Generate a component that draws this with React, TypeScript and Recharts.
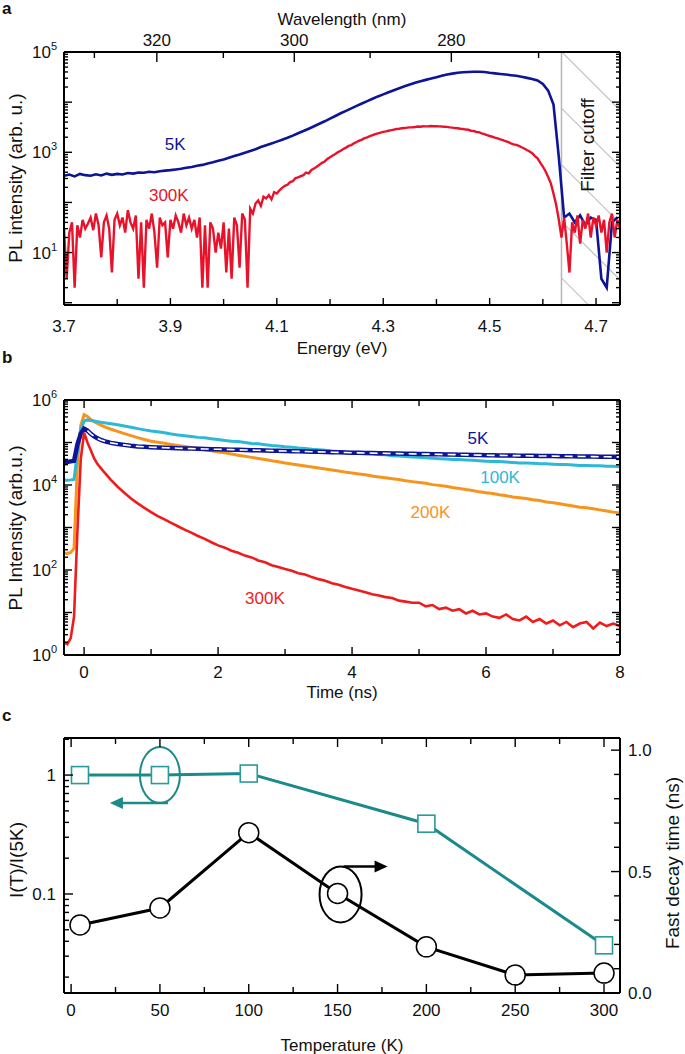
import React from "react";
import { LineChart, Line, XAxis, YAxis, ReferenceArea, ReferenceLine, ReferenceDot } from "recharts";

const FONT = '"Liberation Sans", Arial, Helvetica, sans-serif';
const FS = 17;
const INK = "#111";
const AXIS = { stroke: "#000", strokeWidth: 2 };

// ---------- a: PL spectra ----------
// 300K spectrum, 3.700 .. 4.745 eV every 0.005 eV
const pl300KSpectrum = [
  30, 3, 25, 40, 2, 35, 20, 45, 30, 38,
  50, 28, 60, 35, 8, 40, 55, 30, 4, 45,
  60, 35, 50, 25, 70, 40, 30, 55, 3, 40,
  2, 45, 30, 60, 25, 5, 50, 35, 40, 8,
  45, 30, 55, 40, 25, 60, 35, 50, 30, 45,
  20, 50, 2, 35, 2, 40, 30, 10, 25, 12,
  40, 4, 30, 3, 50, 35, 5, 60, 45, 2,
  75, 60, 95, 110, 85, 130, 120, 140, 115, 160,
  150, 175, 195, 215, 225, 255, 265, 305, 315, 335,
  350, 395, 380, 445, 475, 515, 565, 615, 655, 735,
  800, 860, 925, 1010, 1070, 1160, 1240, 1340, 1390, 1510,
  1600, 1710, 1790, 1910, 1990, 2110, 2190, 2310, 2390, 2460,
  2550, 2610, 2690, 2760, 2840, 2910, 2940, 3010, 3040, 3110,
  3140, 3160, 3190, 3260, 3240, 3310, 3290, 3310, 3340, 3300,
  3310, 3290, 3260, 3240, 3210, 3140, 3110, 3040, 3010, 2940,
  2910, 2840, 2810, 2690, 2660, 2540, 2510, 2390, 2310, 2190,
  2110, 2040, 1960, 1890, 1810, 1740, 1660, 1590, 1510, 1440,
  1400, 1340, 1260, 1190, 1110, 1040, 960, 840, 760, 620,
  520, 420, 320, 240, 150, 90, 45, 20, 50, 15,
  4, 40, 25, 55, 15, 45, 30, 60, 20, 50,
  35, 55, 25, 45, 10, 40, 60, 20, 45, 30,
];
// 5K spectrum, 3.70 .. 4.74 eV every 0.01 eV
const pl5KSpectrum = [
  340, 360, 330, 370, 350, 340, 365, 345, 375, 355,
  370, 360, 385, 375, 395, 390, 410, 400, 420, 430,
  440, 455, 470, 490, 510, 540, 560, 600, 630, 680,
  720, 780, 840, 900, 980, 1060, 1150, 1270, 1380, 1500,
  1630, 1780, 1950, 2150, 2400, 2650, 2950, 3300, 3700, 4150,
  4700, 5300, 6000, 6700, 7500, 8400, 9400, 10500, 11700, 13000,
  14300, 15800, 17300, 19000, 20700, 22500, 24300, 26000, 27800, 29500,
  31500, 33500, 35500, 37000, 38500, 39500, 40000, 40500, 40500, 40000,
  38500, 37500, 36500, 35500, 34500, 33500, 32000, 30500, 29000, 27000,
  23000, 17000, 9000, 800, 50, 60, 40, 55, 35, 50,
  45, 3, 2, 40, 50,
];
const energyTicksEV = [3.7, 3.8, 3.9, 4.0, 4.1, 4.2, 4.3, 4.4, 4.5, 4.6, 4.7];
const energyLabelsEV = [3.7, 3.9, 4.1, 4.3, 4.5, 4.7];
const wavelengthTicksNm = [330, 320, 310, 300, 290, 280, 270];
const wavelengthLabelsNm = [320, 300, 280];
const filterCutoffEV = 4.635;

// ---------- b: time-resolved PL ----------
const timeEarlyNs = [-0.3, -0.25, -0.2, -0.15, -0.1, -0.05, 0, 0.05, 0.1, 0.15, 0.2, 0.25, 0.3, 0.4, 0.5, 0.6, 0.7, 0.8, 0.9];
const tr5K = [
  36000, 35000, 36000, 37000, 90000, 160000, 210000, 190000, 160000, 140000, 125000, 115000, 108000, 98000, 92000, 88000, 84000, 81000, 79000,
  77600, 76600, 75500, 74500, 73500, 72400, 71800, 71100, 70500, 69800,
  69200, 68500, 67900, 67300, 66700, 66100, 65500, 64900, 64300, 63700,
  63100, 62500, 61900, 61400, 60800, 60300, 59700, 59200, 58600, 58100,
  57500, 57100, 56700, 56300, 55900, 55600, 55200, 54800, 54400, 54100,
  53700, 53300, 53000, 52600, 52200, 51900, 51500, 51200, 50800, 50500,
  50100, 49900, 49700, 49400, 49200, 49000, 48800, 48500, 48300, 48100,
  47900, 47600, 47400, 47200, 47000, 46800, 46600, 46300, 46100, 45900,
  45700,
];
const tr100K = [
  13000, 13000, 13200, 13500, 60000, 200000, 320000, 340000, 330000, 320000, 310000, 300000, 292000, 276000, 262000, 245000, 228000, 212000, 198000,
  186000, 178000, 170000, 158000, 151000, 145000, 138000, 132000, 129000, 123000,
  117000, 112000, 107000, 105000, 100000, 95000, 93000, 89000, 85000, 83000,
  79000, 77600, 74000, 72000, 69000, 67600, 66000, 63000, 61700, 59000,
  57500, 56000, 55000, 53700, 52500, 51300, 49000, 47900, 46800, 45700,
  44700, 43600, 42700, 41700, 40700, 39800, 39800, 38900, 38000, 37200,
  36300, 35500, 35500, 34700, 33900, 33100, 33100, 32400, 31600, 31600,
  30900, 30200, 30200, 29500, 28800, 28800, 28200, 28200, 27500, 27500,
  26900,
];
const tr200K = [
  250, 245, 260, 320, 30000, 250000, 450000, 410000, 350000, 310000, 280000, 255000, 235000, 205000, 182000, 162000, 145000, 130000, 118000,
  107000, 101000, 95500, 90200, 85100, 80400, 75900, 71600, 67600, 63800,
  60000, 57000, 53700, 50000, 47300, 44700, 42200, 39800, 37200, 35100,
  33100, 31300, 29600, 28100, 26500, 25100, 23800, 22500, 21300, 20100,
  19100, 18200, 17400, 16200, 15500, 14800, 14100, 13500, 12600, 12000,
  11500, 11000, 10200, 9800, 9300, 8700, 8300, 7800, 7400, 6900,
  6600, 6300, 5900, 5600, 5200, 5000, 4800, 4500, 4300, 4000,
  3800, 3600, 3400, 3200, 3000, 2900, 2750, 2600, 2450, 2300,
  2200,
];
const tr300K = [
  2, 1.8, 2.5, 8, 800, 40000, 170000, 100000, 66000, 42000, 31000, 25000, 20000, 13200, 9100, 6600, 4800, 3700, 2900,
  2300, 1860, 1550, 1290, 1070, 890, 760, 630, 540, 450,
  380, 335, 285, 255, 218, 198, 168, 152, 130, 118,
  105, 96, 84, 78, 68, 61, 56, 49, 45, 40,
  36, 33, 30, 27, 25, 23, 22, 19, 18, 17,
  17, 14, 15, 12, 13, 11, 12, 9.5, 11, 9,
  9.5, 8, 7.5, 9, 7, 6.5, 8, 6, 7, 5.5,
  6.5, 5, 6, 4.5, 5.5, 6, 4.2, 5.8, 4.8, 5.5,
  4.8,
];
const timeTicksNs = [0, 1, 2, 3, 4, 5, 6, 7, 8];

// ---------- c: temperature dependence ----------
const ratioTempsK = [5, 50, 100, 200, 300];
const intensityRatio = [1.0, 1.0, 1.03, 0.39, 0.037];
const decayTempsK = [5, 50, 100, 150, 200, 250, 300];
const fastDecayNs = [0.28, 0.35, 0.66, 0.41, 0.19, 0.074, 0.082];
const tempTicksK = [0, 25, 50, 75, 100, 125, 150, 175, 200, 225, 250, 275, 300];
const decayTicksNs = [0, 0.1, 0.2, 0.3, 0.4, 0.5, 0.6, 0.7, 0.8, 0.9, 1.0];

const NAVY = "#0d1496";
const RED = "#e8132b";
const CYAN = "#2db8d8";
const ORANGE = "#f7941d";
const TEAL = "#1c8a8a";

const logTicks = (lo: number, hi: number) => {
  const out: number[] = [];
  for (let k = Math.floor(Math.log10(lo)); k <= Math.ceil(Math.log10(hi)); k++) {
    for (let d = 1; d <= 9; d++) {
      const v = +(d * Math.pow(10, k)).toPrecision(3);
      if (v >= lo && v <= hi) out.push(v);
    }
  }
  return out;
};
const isDecade = (v: number) => Math.abs(Math.log10(v) - Math.round(Math.log10(v))) < 1e-6;
const pow10 = (v: number) => (
  <>
    <tspan>10</tspan>
    <tspan dy={-8} fontSize={11}>{Math.round(Math.log10(v))}</tspan>
  </>
);
const near = (list: number[], v: number) => list.some((a) => Math.abs(a - v) < 1e-6);

type Side = "left" | "right" | "top" | "bottom";
const makeTick = (
  side: Side,
  isMajor: (v: number) => boolean,
  label: (v: number) => React.ReactNode,
  gap: number,
  majorLen = 8,
  minorLen = 4
) =>
  function Tick(props: any) {
    const { x, y, payload } = props;
    const v = payload.value as number;
    const len = isMajor(v) ? majorLen : minorLen;
    const t = label(v);
    const ts = { fontFamily: FONT, fontSize: FS, fill: INK };
    let l = [x, y, x, y];
    let txt: React.ReactNode = null;
    if (side === "left") {
      l = [x, y, x + len, y];
      if (t != null) txt = <text x={x - gap} y={y + FS * 0.36} textAnchor="end" {...ts}>{t}</text>;
    } else if (side === "right") {
      l = [x, y, x - len, y];
      if (t != null) txt = <text x={x + gap} y={y + FS * 0.36} textAnchor="start" {...ts}>{t}</text>;
    } else if (side === "bottom") {
      l = [x, y, x, y - len];
      if (t != null) txt = <text x={x} y={y + gap + FS * 0.72} textAnchor="middle" {...ts}>{t}</text>;
    } else {
      l = [x, y, x, y + len];
      if (t != null) txt = <text x={x} y={y - gap} textAnchor="middle" {...ts}>{t}</text>;
    }
    return (
      <g>
        <line x1={l[0]} y1={l[1]} x2={l[2]} y2={l[3]} stroke="#000" strokeWidth={1.4} />
        {txt}
      </g>
    );
  };

const none = () => null;
const axisCommon = { tickLine: false, tickSize: 0, tickMargin: 0, axisLine: AXIS, interval: 0 as const, allowDataOverflow: true };

const txtShape = (text: string, color: string) =>
  function Txt(p: any) {
    return (
      <text x={p.cx} y={p.cy + FS * 0.36} textAnchor="middle" fontFamily={FONT} fontSize={FS} fill={color}>
        {text}
      </text>
    );
  };

// ---- panel a ----
const specRed = pl300KSpectrum.map((y, i) => ({ x: +(3.7 + i * 0.005).toFixed(3), y }));
const specBlue = pl5KSpectrum.map((y, i) => ({ x: +(3.7 + i * 0.01).toFixed(2), y }));
const wlTickEV = wavelengthTicksNm.map((nm) => 1239.84 / nm);

const PanelA = () => {
  const yTicks = logTicks(1, 1e5);
  return (
    <LineChart width={685} height={360} margin={{ top: 0, right: 0, bottom: 0, left: 0 }}>
      <XAxis
        {...axisCommon}
        xAxisId="b"
        type="number"
        dataKey="x"
        domain={[3.7, 4.745]}
        ticks={energyTicksEV}
        height={55}
        tick={makeTick("bottom", (v) => near(energyLabelsEV, v), (v) => (near(energyLabelsEV, v) ? v.toFixed(1) : null), 15, 7, 6)}
      />
      <XAxis
        {...axisCommon}
        xAxisId="t"
        orientation="top"
        type="number"
        dataKey="x"
        domain={[3.7, 4.745]}
        ticks={wlTickEV}
        height={52}
        tick={makeTick(
          "top",
          (v) => near(wavelengthLabelsNm, Math.round(1239.84 / v)),
          (v) => (near(wavelengthLabelsNm, Math.round(1239.84 / v)) ? String(Math.round(1239.84 / v)) : null),
          6,
          10,
          6
        )}
      />
      <YAxis
        {...axisCommon}
        yAxisId="l"
        scale="log"
        type="number"
        domain={[0.9, 1e5]}
        ticks={yTicks}
        width={64}
        tick={makeTick("left", isDecade, (v) => (v === 10 || v === 1000 || v === 100000 ? pow10(v) : null), 7, 8, 4)}
      />
      <YAxis
        {...axisCommon}
        yAxisId="r"
        orientation="right"
        scale="log"
        type="number"
        domain={[0.9, 1e5]}
        ticks={yTicks}
        width={65}
        tick={makeTick("right", isDecade, none, 7, 8, 4)}
      />
      <ReferenceArea xAxisId="b" yAxisId="l" x1={filterCutoffEV} x2={4.745} fill="url(#hatch)" fillOpacity={1} stroke="none" />
      <ReferenceLine xAxisId="b" yAxisId="l" x={filterCutoffEV} stroke="#b5b5b5" strokeWidth={1.5} />
      <Line xAxisId="b" yAxisId="l" data={specBlue} dataKey="y" stroke={NAVY} strokeWidth={2.6} dot={false} activeDot={false} isAnimationActive={false} />
      <Line xAxisId="b" yAxisId="l" data={specRed} dataKey="y" stroke={RED} strokeWidth={2.4} dot={false} activeDot={false} isAnimationActive={false} />
      <ReferenceDot xAxisId="b" yAxisId="l" x={3.909} y={1500} r={1} shape={txtShape("5K", NAVY)} />
      <ReferenceDot xAxisId="b" yAxisId="l" x={3.897} y={140} r={1} shape={txtShape("300K", RED)} />
      <ReferenceDot
        xAxisId="b"
        yAxisId="l"
        x={4.683}
        y={1400}
        r={1}
        shape={(p: any) => (
          <text
            x={p.cx}
            y={p.cy}
            transform={`rotate(-90 ${p.cx} ${p.cy})`}
            textAnchor="middle"
            dominantBaseline="central"
            fontFamily={FONT}
            fontSize={19}
            fill={INK}
          >
            Filter cutoff
          </text>
        )}
      />
    </LineChart>
  );
};

// ---- panel b ----
const timeLateNs = Array.from({ length: 71 }, (_, i) => +(1 + i * 0.1).toFixed(1));
const timeNs = [...timeEarlyNs, ...timeLateNs];
const toPts = (vals: number[]) => vals.map((y, i) => ({ x: timeNs[i], y }));
const b5K = toPts(tr5K);
const b5KFit = b5K.slice(7);
const b100K = toPts(tr100K);
const b200K = toPts(tr200K);
const b300K = toPts(tr300K);

const PanelB = () => {
  const yTicks = logTicks(1, 1e6);
  const lbl = (v: number) => (v === 1 || v === 100 || v === 10000 || v === 1e6 ? pow10(v) : null);
  return (
    <LineChart width={685} height={345} margin={{ top: 0, right: 0, bottom: 0, left: 0 }}>
      <XAxis {...axisCommon} xAxisId="b" type="number" dataKey="x" domain={[-0.3, 8]} ticks={timeTicksNs} height={45}
        tick={makeTick("bottom", (v) => v % 2 === 0, (v) => (v % 2 === 0 ? String(v) : null), 11, 8, 6)} />
      <XAxis {...axisCommon} xAxisId="t" orientation="top" type="number" dataKey="x" domain={[-0.3, 8]} ticks={timeTicksNs} height={45}
        tick={makeTick("top", (v) => v % 2 === 0, none, 6, 8, 6)} />
      <YAxis {...axisCommon} yAxisId="l" scale="log" type="number" domain={[1, 1e6]} ticks={yTicks} width={64}
        tick={makeTick("left", isDecade, lbl, 7, 8, 4)} />
      <YAxis {...axisCommon} yAxisId="r" orientation="right" scale="log" type="number" domain={[1, 1e6]} ticks={yTicks} width={65}
        tick={makeTick("right", isDecade, none, 7, 8, 4)} />
      <Line xAxisId="b" yAxisId="l" data={b200K} dataKey="y" stroke={ORANGE} strokeWidth={3} dot={false} activeDot={false} isAnimationActive={false} />
      <Line xAxisId="b" yAxisId="l" data={b100K} dataKey="y" stroke={CYAN} strokeWidth={3} dot={false} activeDot={false} isAnimationActive={false} />
      <Line xAxisId="b" yAxisId="l" data={b5K} dataKey="y" stroke={NAVY} strokeWidth={4.5} dot={false} activeDot={false} isAnimationActive={false} />
      <Line xAxisId="b" yAxisId="l" data={b5KFit} dataKey="y" stroke="#ffffff" strokeWidth={1.6} strokeDasharray="8 5" dot={false} activeDot={false} isAnimationActive={false} />
      <Line xAxisId="b" yAxisId="l" data={b300K} dataKey="y" stroke="#ee1c1c" strokeWidth={2.6} dot={false} activeDot={false} isAnimationActive={false} />
      <ReferenceDot xAxisId="b" yAxisId="l" x={5.88} y={128000} r={1} shape={txtShape("5K", NAVY)} />
      <ReferenceDot xAxisId="b" yAxisId="l" x={6.21} y={15500} r={1} shape={txtShape("100K", CYAN)} />
      <ReferenceDot xAxisId="b" yAxisId="l" x={5.17} y={2300} r={1} shape={txtShape("200K", ORANGE)} />
      <ReferenceDot xAxisId="b" yAxisId="l" x={2.7} y={22} r={1} shape={txtShape("300K", "#ee1c1c")} />
    </LineChart>
  );
};

// ---- panel c ----
const cRatio = ratioTempsK.map((x, i) => ({ x, y: intensityRatio[i] }));
const cDecay = decayTempsK.map((x, i) => ({ x, y: fastDecayNs[i] }));

const SquareMark = (p: any) => (
  <rect key={`sq-${p.index}`} x={p.cx - 8.5} y={p.cy - 8.5} width={17} height={17} fill="#fff" stroke="#2a9a9a" strokeWidth={1.6} />
);
const CircleMark = (p: any) => (
  <circle key={`ci-${p.index}`} cx={p.cx} cy={p.cy} r={10} fill="#fff" stroke="#000" strokeWidth={1.5} />
);

const PanelC = () => {
  const yTicks = logTicks(0.0147, 2.05);
  return (
    <LineChart width={685} height={354} margin={{ top: 0, right: 0, bottom: 0, left: 0 }}>
      <XAxis {...axisCommon} xAxisId="b" type="number" dataKey="x" domain={[-4, 309]} ticks={tempTicksK} height={61}
        tick={makeTick("bottom", (v) => v % 50 === 0, (v) => (v % 50 === 0 ? String(v) : null), 11, 9, 6)} />
      <XAxis {...axisCommon} xAxisId="t" orientation="top" type="number" dataKey="x" domain={[-4, 309]} ticks={tempTicksK} height={38}
        tick={makeTick("top", (v) => v % 50 === 0, none, 6, 9, 6)} />
      <YAxis {...axisCommon} yAxisId="l" scale="log" type="number" domain={[0.0147, 2.05]} ticks={yTicks} width={64}
        tick={makeTick("left", isDecade, (v) => (v === 1 ? "1" : v === 0.1 ? "0.1" : null), 8, 9, 5)} />
      <YAxis {...axisCommon} yAxisId="r" orientation="right" type="number" domain={[0, 1.05]} ticks={decayTicksNs} width={65}
        tick={makeTick("right", (v) => near([0, 0.5, 1], v), (v) => (near([0, 0.5, 1], v) ? v.toFixed(1) : null), 8, 9, 6)} />
      <Line xAxisId="b" yAxisId="l" data={cRatio} dataKey="y" stroke={TEAL} strokeWidth={3} dot={SquareMark} activeDot={false} isAnimationActive={false} />
      <Line xAxisId="b" yAxisId="r" data={cDecay} dataKey="y" stroke="#000" strokeWidth={3} dot={CircleMark} activeDot={false} isAnimationActive={false} />
      <ReferenceDot
        xAxisId="b"
        yAxisId="l"
        x={50}
        y={1.0}
        r={1}
        shape={(p: any) => (
          <g fill="none" stroke={TEAL} strokeWidth={2}>
            <ellipse cx={p.cx} cy={p.cy} rx={20} ry={28} />
            <line x1={p.cx + 8} y1={p.cy + 28} x2={p.cx - 38} y2={p.cy + 28} strokeWidth={2.5} />
            <polygon points={`${p.cx - 50},${p.cy + 28} ${p.cx - 37},${p.cy + 22} ${p.cx - 37},${p.cy + 34}`} fill={TEAL} stroke="none" />
          </g>
        )}
      />
      <ReferenceDot
        xAxisId="b"
        yAxisId="r"
        x={150}
        y={0.41}
        r={1}
        shape={(p: any) => (
          <g fill="none" stroke="#000" strokeWidth={2}>
            <ellipse cx={p.cx + 3} cy={p.cy + 1} rx={21} ry={28} />
            <line x1={p.cx + 6} y1={p.cy - 27} x2={p.cx + 38} y2={p.cy - 27} strokeWidth={2.5} />
            <polygon points={`${p.cx + 50},${p.cy - 27} ${p.cx + 37},${p.cy - 33} ${p.cx + 37},${p.cy - 21}`} fill="#000" stroke="none" />
          </g>
        )}
      />
    </LineChart>
  );
};

const Title = ({ x, y, text, rotate = false, bold = false }: { x: number; y: number; text: string; rotate?: boolean; bold?: boolean }) => (
  <text
    x={x}
    y={y}
    transform={rotate ? `rotate(-90 ${x} ${y})` : undefined}
    textAnchor={bold ? "start" : "middle"}
    dominantBaseline="central"
    fontFamily={FONT}
    fontSize={rotate ? 19 : FS}
    fontWeight={bold ? 700 : 400}
    fill={INK}
  >
    {text}
  </text>
);

export default function App() {
  return (
    <div style={{ position: "absolute", left: 0, top: 0, width: 685, height: 1054, background: "#fff" }}>
      <svg width={0} height={0} style={{ position: "absolute" }}>
        <defs>
          <pattern id="hatch" patternUnits="userSpaceOnUse" width={40} height={40} patternTransform="rotate(-45)">
            <line x1={0} y1={0} x2={0} y2={40} stroke="#b8b8b8" strokeWidth={2} />
          </pattern>
        </defs>
      </svg>
      <div style={{ position: "absolute", left: 0, top: 0 }}>
        <PanelA />
      </div>
      <div style={{ position: "absolute", left: 0, top: 355 }}>
        <PanelB />
      </div>
      <div style={{ position: "absolute", left: 0, top: 700 }}>
        <PanelC />
      </div>
      <svg width={685} height={1054} style={{ position: "absolute", left: 0, top: 0, pointerEvents: "none" }}>
        <Title x={2} y={8} text="a" bold />
        <Title x={342} y={19} text="Wavelength (nm)" />
        <Title x={342} y={348} text="Energy (eV)" />
        <Title x={15} y={178} text="PL intensity (arb. u.)" rotate />
        <Title x={2} y={357} text="b" bold />
        <Title x={15} y={528} text="PL Intensity (arb.u.)" rotate />
        <Title x={342} y={692} text="Time (ns)" />
        <Title x={2} y={715} text="c" bold />
        <Title x={16} y={860} text="I(T)/I(5K)" rotate />
        <Title x={672} y={863} text="Fast decay time (ns)" rotate />
        <Title x={342} y={1045} text="Temperature (K)" />
      </svg>
    </div>
  );
}
